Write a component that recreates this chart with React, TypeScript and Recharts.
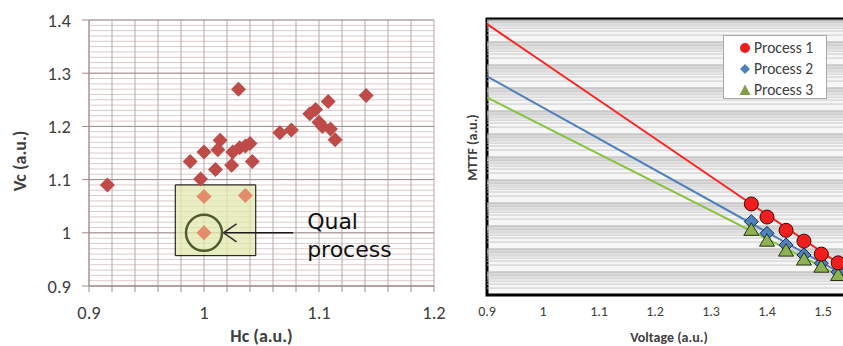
import React from 'react';
import {
  ScatterChart,
  Scatter,
  XAxis,
  YAxis,
  CartesianGrid,
  ReferenceArea,
  ReferenceDot,
  ReferenceLine,
  Legend,
  Label,
} from 'recharts';

const FONT = 'Carlito, Lato, "Open Sans", sans-serif';

// ---------- Left chart: Vc vs Hc ----------
const hcValues = [0.916, 1.03, 1.141, 1.108, 1.092, 1.097, 1.1, 1.103, 1.11, 1.114, 1.066, 1.076, 1.014, 1.0, 1.012, 1.025, 1.031, 1.036, 1.04, 0.988, 1.01, 1.024, 1.042, 0.997];
const vcValues = [1.09, 1.27, 1.258, 1.247, 1.224, 1.232, 1.208, 1.2, 1.195, 1.175, 1.188, 1.193, 1.174, 1.152, 1.156, 1.152, 1.16, 1.163, 1.168, 1.134, 1.119, 1.127, 1.134, 1.101];
const qualHc = [1.0, 1.036, 1.0];
const qualVc = [1.068, 1.07, 1.0];
const hcTicks = [0.9, 0.92, 0.94, 0.96, 0.98, 1.0, 1.02, 1.04, 1.06, 1.08, 1.1, 1.12, 1.14, 1.16, 1.18, 1.2];
const vcTicks = [0.9, 1.0, 1.1, 1.2, 1.3, 1.4];
const vcMinorGrid = Array.from({ length: 51 }, (_, i) => +(0.9 + i * 0.01).toFixed(2));
const qualBox = { x1: 0.975, x2: 1.045, y1: 0.957, y2: 1.09 };

// ---------- Right chart: MTTF vs Voltage (log MTTF axis) ----------
const processNames = ['Process 1', 'Process 2', 'Process 3'];
const voltageTicks = [0.9, 1.0, 1.1, 1.2, 1.3, 1.4, 1.5];
const voltage = [1.372, 1.4, 1.434, 1.466, 1.497, 1.527];
const mttfProcess1 = [9100, 2450, 650, 220, 60, 25];
const mttfProcess2 = [1550, 480, 150, 55, 24, 10];
const mttfProcess3 = [680, 230, 85, 35, 17, 7.4];
const trendVoltage = [0.9, 1.55];
const trendProcess1 = [6.0e11, 10.2];
const trendProcess2 = [3.2e9, 5.0];
const trendProcess3 = [3.9e8, 3.9];
const mttfDecades = [1, 1e1, 1e2, 1e3, 1e4, 1e5, 1e6, 1e7, 1e8, 1e9, 1e10, 1e11];
const minorSteps = [2, 3, 4, 5, 6, 7, 8, 9];
const mttfMinorGrid = mttfDecades.flatMap((d) => minorSteps.map((m) => m * d));
const mttfMajorGrid = mttfDecades.slice(1);

const leftData = hcValues.map((hc, i) => ({ hc, vc: vcValues[i] }));
const qualData = qualHc.map((hc, i) => ({ hc, vc: qualVc[i] }));
const toSeries = (ys: number[]) => voltage.map((v, i) => ({ v, m: ys[i] }));
const toTrend = (ys: number[]) => trendVoltage.map((v, i) => ({ v, m: ys[i] }));

const fmtTenth = (v: number) => {
  if (Math.abs(v * 10 - Math.round(v * 10)) > 1e-6) return '';
  if (Math.abs(v - 1) < 1e-6) return '1';
  return v.toFixed(1);
};

const makeTick = (size: number, anchor: string, dx: number, dy: number) => (props: any) => {
  const { x, y, payload } = props;
  const label = fmtTenth(Number(payload && payload.value));
  if (!label) return <g />;
  return (
    <text
      x={x + dx}
      y={y + dy}
      textAnchor={anchor}
      dominantBaseline="central"
      fontFamily={FONT}
      fontSize={size}
      fill="#404040"
    >
      {label}
    </text>
  );
};

const makeDiamond = (fill: string, r: number, stroke?: string) => (p: any) => {
  const { cx, cy } = p;
  if (cx == null || cy == null) return <g />;
  return (
    <path
      d={`M${cx},${cy - r}L${cx + r},${cy}L${cx},${cy + r}L${cx - r},${cy}Z`}
      fill={fill}
      stroke={stroke || 'none'}
      strokeWidth={stroke ? 1 : 0}
    />
  );
};

const RedCircle = (p: any) => {
  const { cx, cy } = p;
  if (cx == null || cy == null) return <g />;
  return <circle cx={cx} cy={cy} r={7} fill="#F21D1D" stroke="#3C0A0A" strokeWidth={1} />;
};

const GreenTriangle = (p: any) => {
  const { cx, cy } = p;
  if (cx == null || cy == null) return <g />;
  return (
    <path
      d={`M${cx},${cy - 7}L${cx + 7.5},${cy + 5.5}L${cx - 7.5},${cy + 5.5}Z`}
      fill="#8DB153"
      stroke="#26330F"
      strokeWidth={1}
    />
  );
};

const NoShape = () => <g />;

const ArrowShape = (p: any) => {
  const x1 = Number(p.x1), x2 = Number(p.x2), y = Number(p.y1);
  if (!isFinite(x1) || !isFinite(x2) || !isFinite(y)) return <g />;
  const tip = Math.min(x1, x2);
  const end = Math.max(x1, x2);
  return (
    <g>
      <line x1={tip} y1={y} x2={end} y2={y} stroke="#1A1A1A" strokeWidth={1.6} />
      <path d={`M${tip + 13},${y - 9}L${tip},${y}L${tip + 13},${y + 9}`} fill="none" stroke="#333" strokeWidth={1.6} />
      <text x={end + 14} y={y - 3.5} fontFamily="DejaVu Sans" fontSize={22} fill="#111">Qual</text>
      <text x={end + 14} y={y + 24} fontFamily="DejaVu Sans" fontSize={22} fill="#111">process</text>
    </g>
  );
};

const makeRotLabel = (text: string, dx: number, dy: number, size: number) => (props: any) => {
  const vb = props.viewBox || {};
  const cx = (vb.x || 0) + dx;
  const cy = (vb.y || 0) + (vb.height || 0) / 2 + dy;
  return (
    <text
      x={cx}
      y={cy}
      transform={`rotate(-90 ${cx} ${cy})`}
      textAnchor="middle"
      dominantBaseline="central"
      fontFamily={FONT}
      fontWeight="bold"
      fontSize={size}
      fill="#404040"
    >
      {text}
    </text>
  );
};

const legendMarkers = [
  <circle cx={6} cy={6} r={5} fill="#F21D1D" />,
  <path d="M6,1L11,6L6,11L1,6Z" fill="#4F81BD" />,
  <path d="M6,0.5L11.5,11L0.5,11Z" fill="#7E9E48" />,
];

const LegendBox = () => (
  <div
    style={{
      position: 'absolute',
      left: 0,
      top: 0,
      width: 104,
      height: 64,
      boxSizing: 'border-box',
      border: '1px solid #A8A8A8',
      background: '#FFFFFF',
      fontFamily: FONT,
      fontSize: 15.5,
      color: '#404040',
      paddingTop: 1,
    }}
  >
    {processNames.map((name, i) => (
      <div key={name} style={{ display: 'flex', alignItems: 'center', height: 21, paddingLeft: 15 }}>
        <svg width={12} height={12} style={{ marginRight: 3 }}>
          {legendMarkers[i]}
        </svg>
        <span>{name}</span>
      </div>
    ))}
  </div>
);

export default function App() {
  return (
    <div
      style={{
        position: 'fixed',
        left: 0,
        top: 0,
        width: 843,
        height: 346,
        overflow: 'hidden',
        background: '#FFFFFF',
      }}
    >
      <div style={{ position: 'absolute', left: 0, top: 0 }}>
        <ScatterChart width={460} height={346} margin={{ top: 20, right: 26, bottom: 0, left: 0 }}>
          <CartesianGrid vertical={false} horizontalValues={vcMinorGrid} stroke="#DACBCB" />
          <CartesianGrid horizontal={false} verticalValues={hcTicks} stroke="#BAA6A6" />
          <CartesianGrid vertical={false} horizontalValues={vcTicks} stroke="#A08C8C" />
          <XAxis
            dataKey="hc"
            type="number"
            domain={[0.9, 1.2]}
            ticks={hcTicks}
            interval={0}
            allowDataOverflow
            tickSize={6}
            tickMargin={0}
            stroke="#9E8A8A"
            tick={makeTick(18.5, 'middle', 0, 20.5)}
            height={60}
          >
            <Label
              value="Hc (a.u.)"
              position="insideBottom"
              offset={4}
              style={{ fontWeight: 'bold', fontSize: 18, fill: '#404040', fontFamily: FONT }}
            />
          </XAxis>
          <YAxis
            dataKey="vc"
            type="number"
            domain={[0.9, 1.4]}
            ticks={vcTicks}
            interval={0}
            allowDataOverflow
            tickSize={7}
            tickMargin={0}
            stroke="#9E8A8A"
            tick={makeTick(18.5, 'end', -11, 0)}
            width={89}
          >
            <Label content={makeRotLabel('Vc (a.u.)', 20, 8, 18)} />
          </YAxis>
          <ReferenceArea
            x1={qualBox.x1}
            x2={qualBox.x2}
            y1={qualBox.y1}
            y2={qualBox.y2}
            fill="#E2EAAE"
            fillOpacity={0.75}
            stroke="#000"
            strokeWidth={1}
          />
          <Scatter data={leftData} shape={makeDiamond('#BE4B48', 7.5)} isAnimationActive={false} />
          <Scatter data={qualData} shape={makeDiamond('#E38C69', 7.5)} isAnimationActive={false} />
          <ReferenceDot x={1.0} y={1.0} r={18} fill="none" stroke="#4E5B2C" strokeWidth={2.5} />
          <ReferenceLine
            segment={[
              { x: 1.017, y: 1.0 },
              { x: 1.0775, y: 1.0 },
            ]}
            stroke="#1A1A1A"
            shape={ArrowShape}
          />
        </ScatterChart>
      </div>

      <div style={{ position: 'absolute', left: 440, top: 0 }}>
        <ScatterChart width={460} height={346} margin={{ top: 19, right: 49, bottom: 0, left: 0 }}>
          <ReferenceArea x1={0.9} x2={1.55} y1={1} y2={1e12} fill="#F6F6F6" fillOpacity={1} stroke="none" />
          {mttfMinorGrid.map((m) => (
            <ReferenceLine key={`mi${m}`} y={m} stroke="#C9C9C9" strokeWidth={1} />
          ))}
          {mttfMajorGrid.map((m) => (
            <ReferenceLine key={`ma${m}`} y={m} stroke="#AEAEAE" strokeWidth={1} />
          ))}
          <XAxis
            dataKey="v"
            type="number"
            domain={[0.9, 1.55]}
            ticks={voltageTicks}
            interval={0}
            allowDataOverflow
            tickLine={false}
            axisLine={false}
            tickSize={0}
            tickMargin={0}
            tick={makeTick(14, 'middle', 0, 16)}
            height={51}
          >
            <Label
              value="Voltage (a.u.)"
              position="insideBottom"
              offset={4}
              style={{ fontWeight: 'bold', fontSize: 14, fill: '#404040', fontFamily: FONT }}
            />
          </XAxis>
          <YAxis
            dataKey="m"
            type="number"
            scale="log"
            domain={[1, 1e12]}
            allowDataOverflow
            tick={false}
            tickLine={false}
            axisLine={false}
            width={47}
          >
            <Label content={makeRotLabel('MTTF (a.u.)', 32, -9.5, 14)} />
          </YAxis>
          <Scatter data={toTrend(trendProcess1)} line={{ stroke: '#FF2020', strokeWidth: 2 }} shape={NoShape} legendType="none" isAnimationActive={false} />
          <Scatter data={toTrend(trendProcess2)} line={{ stroke: '#4F81BD', strokeWidth: 2 }} shape={NoShape} legendType="none" isAnimationActive={false} />
          <Scatter data={toTrend(trendProcess3)} line={{ stroke: '#86C440', strokeWidth: 2 }} shape={NoShape} legendType="none" isAnimationActive={false} />
          <Scatter name={processNames[1]} data={toSeries(mttfProcess2)} shape={makeDiamond('#4F81BD', 7, '#1B2D4A')} isAnimationActive={false} />
          <Scatter name={processNames[2]} data={toSeries(mttfProcess3)} shape={GreenTriangle} isAnimationActive={false} />
          <Scatter name={processNames[0]} data={toSeries(mttfProcess1)} shape={RedCircle} isAnimationActive={false} />
          <ReferenceArea x1={0.9} x2={1.55} y1={1} y2={1e12} fill="none" stroke="#000" strokeWidth={3} />
          <Legend
            content={<LegendBox />}
            wrapperStyle={{ position: 'absolute', left: 283, top: 35, width: 0, height: 0 }}
          />
        </ScatterChart>
      </div>
    </div>
  );
}
